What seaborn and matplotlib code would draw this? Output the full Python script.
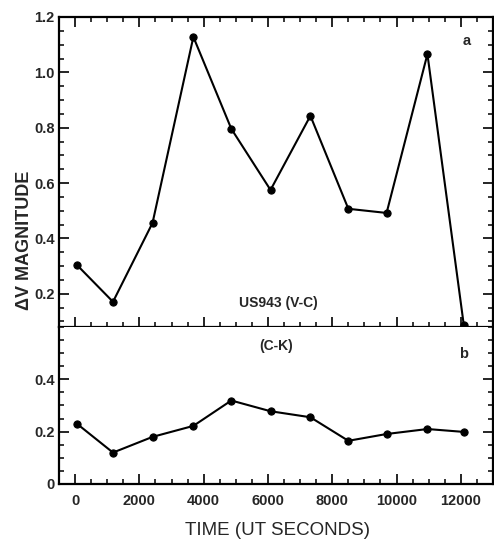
import matplotlib
matplotlib.use("Agg")
import matplotlib.pyplot as plt
import seaborn as sns
import pandas as pd
from matplotlib.ticker import MultipleLocator, FixedLocator, FixedFormatter

# ---- data ----
time_s = [50, 1180, 2410, 3680, 4860, 6080, 7320, 8500, 9690, 10960, 12090]
dv_vc = [0.305, 0.171, 0.456, 1.128, 0.796, 0.575, 0.843, 0.507, 0.492, 1.066, 0.088]
dv_ck = [0.231, 0.120, 0.180, 0.222, 0.319, 0.278, 0.255, 0.165, 0.191, 0.210, 0.199]

x_ticks = [0, 2000, 4000, 6000, 8000, 10000, 12000]
x_ticklabels = ["0", "2000", "4000", "6000", "8000", "10000", "12000"]
top_yticks = [0.2, 0.4, 0.6, 0.8, 1.0, 1.2]
top_yticklabels = ["0.2", "0.4", "0.6", "0.8", "1.0", "1.2"]
bot_yticks = [0.0, 0.2, 0.4]
bot_yticklabels = ["0", "0.2", "0.4"]

df_a = pd.DataFrame({"time": time_s, "dv": dv_vc})
df_b = pd.DataFrame({"time": time_s, "dv": dv_ck})

sns.set_style("white")
plt.rcParams["font.family"] = ["Liberation Sans", "DejaVu Sans"]

fig = plt.figure(figsize=(4.94, 5.41), dpi=100)
ax_a = fig.add_axes([0.1194, 0.3956, 0.8786, 0.5730])
ax_b = fig.add_axes([0.1194, 0.1054, 0.8786, 0.2902], sharex=ax_a)

line_kw = dict(color="black", linewidth=1.5, marker="o", markersize=5.2,
               markeredgecolor="black", markerfacecolor="black")
sns.lineplot(data=df_a, x="time", y="dv", ax=ax_a, **line_kw)
sns.lineplot(data=df_b, x="time", y="dv", ax=ax_b, **line_kw)

ax_a.set_xlim(-500, 13000)
ax_a.set_ylim(0.08, 1.2)
ax_b.set_ylim(0.0, 0.6)

for ax in (ax_a, ax_b):
    for sp in ax.spines.values():
        sp.set_linewidth(1.6)
        sp.set_color("black")
    ax.set_xlabel("")
    ax.set_ylabel("")
    ax.xaxis.set_major_locator(FixedLocator(x_ticks))
    ax.xaxis.set_minor_locator(MultipleLocator(500))
    ax.yaxis.set_minor_locator(MultipleLocator(0.05))
    ax.tick_params(which="major", direction="in", length=7.2, width=1.2,
                   color="black", labelsize=10.5)
    ax.tick_params(which="minor", direction="in", length=3.6, width=1.1,
                   color="black")

ax_a.tick_params(which="both", top=True, bottom=True, left=True, right=True,
                 labelbottom=False)
ax_b.spines["top"].set_visible(False)
ax_b.tick_params(which="both", top=False, bottom=True, left=True, right=True,
                 pad=7)
ax_b.tick_params(axis="y", which="major", pad=3)
ax_a.tick_params(axis="y", which="major", pad=3)

ax_a.yaxis.set_major_locator(FixedLocator(top_yticks))
ax_a.yaxis.set_major_formatter(FixedFormatter(top_yticklabels))
ax_b.yaxis.set_major_locator(FixedLocator(bot_yticks))
ax_b.yaxis.set_major_formatter(FixedFormatter(bot_yticklabels))
ax_b.xaxis.set_major_formatter(FixedFormatter(x_ticklabels))

for lab in ax_a.get_yticklabels() + ax_b.get_yticklabels() + ax_b.get_xticklabels():
    lab.set_fontweight("bold")

ax_a.text(0.94, 0.923, "a", transform=ax_a.transAxes, fontsize=10.5,
          fontweight="bold", ha="center", va="center")
ax_a.text(0.506, 0.078, "US943 (V-C)", transform=ax_a.transAxes, fontsize=10,
          fontweight="bold", ha="center", va="center")
ax_b.text(0.50, 0.876, "(C-K)", transform=ax_b.transAxes, fontsize=10,
          fontweight="bold", ha="center", va="center")
ax_b.text(0.931, 0.83, "b", transform=ax_b.transAxes, fontsize=10.5,
          fontweight="bold", ha="center", va="center")

fig.text(0.05, 0.556, "ΔV MAGNITUDE", rotation=90, fontsize=13,
         fontweight="bold", ha="center", va="center")
fig.text(0.561, 0.02, "TIME (UT SECONDS)", fontsize=13.5,
         ha="center", va="center")

fig.savefig("out.png", dpi=100, facecolor="white")
